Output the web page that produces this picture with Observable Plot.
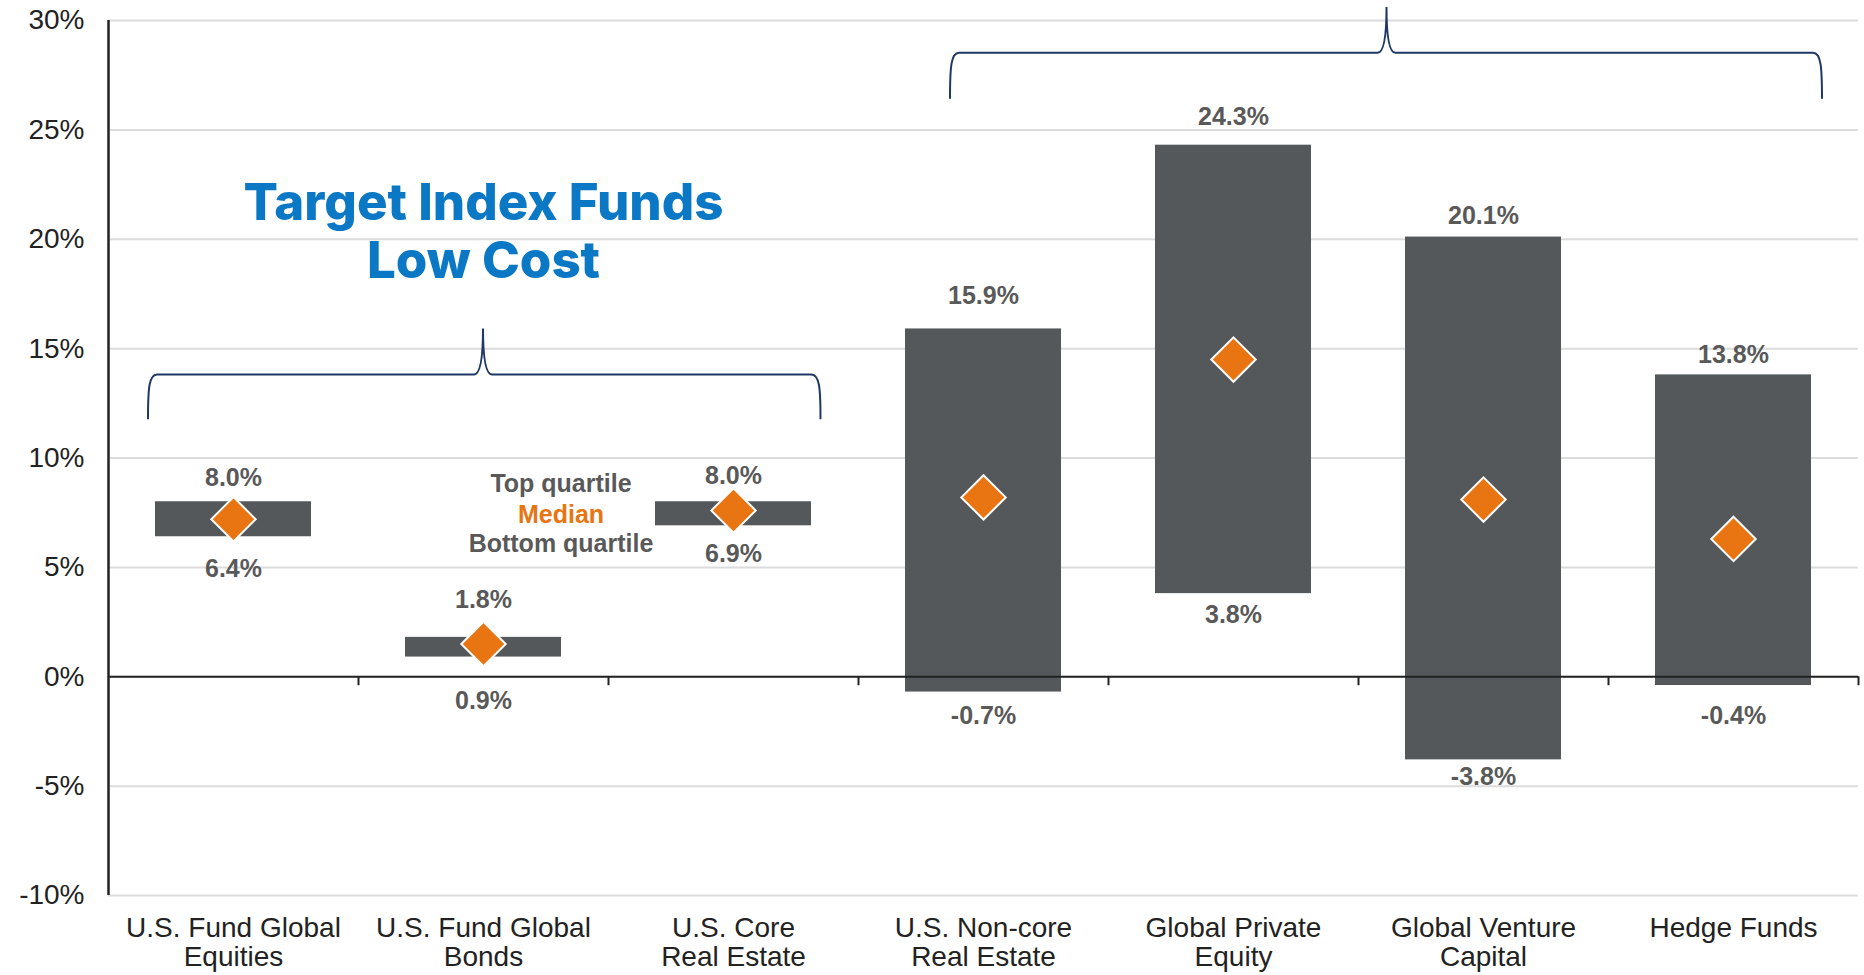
<!DOCTYPE html>
<html>
<head>
<meta charset="utf-8">
<script src="https://cdn.jsdelivr.net/npm/d3@7"></script>
<script src="https://cdn.jsdelivr.net/npm/@observablehq/plot@0.6"></script>
<style>
  html, body { margin: 0; padding: 0; background: #fff; overflow: hidden; }
</style>
</head>
<body>
<div id="chart"></div>
<script>
// ---- data ----
const categories = [
  "U.S. Fund Global\nEquities",
  "U.S. Fund Global\nBonds",
  "U.S. Core\nReal Estate",
  "U.S. Non-core\nReal Estate",
  "Global Private\nEquity",
  "Global Venture\nCapital",
  "Hedge Funds"
];
const topQuartile    = [8.0, 1.8, 8.0, 15.9, 24.3, 20.1, 13.8];
const medianValues   = [7.2, 1.5, 7.6, 8.2, 14.5, 8.1, 6.3];
const bottomQuartile = [6.4, 0.9, 6.9, -0.7, 3.8, -3.8, -0.4];
const yTicks = [-10, -5, 0, 5, 10, 15, 20, 25, 30];
const legendLabels = ["Top quartile", "Median", "Bottom quartile"];
const titleLines = ["Target Index Funds", "Low Cost"];

// ---- build table ----
const rows = categories.map((c, i) => ({
  i, category: c, top: topQuartile[i], median: medianValues[i], bottom: bottomQuartile[i]
}));
const indices = categories.map((_, i) => i);
const boundaries = categories.map((_, i) => i + 0.5);
const pct = v => v.toFixed(1) + "%";

// ---- styling / layout constants ----
const barColor = "#54585a";
const orange = "#e87511";
const labelGray = "#595959";
const braceColor = "#203864";
const halfBar = 0.312;
// pixel gaps of the value labels from the bar ends (as placed in the reference)
const topLabelGap    = [24, 37, 26, 33, 28, 21, 20];
const bottomLabelGap = [32, 44, 28, 24, 21, 17, 30];

function brace(spec) {
  return (index, scales) => {
    const {x, y} = scales;
    const xl = x(spec.x1), xr = x(spec.x2), xm = x(spec.xm);
    const yt = y(spec.tip), yb = y(spec.bar), ye = y(spec.end);
    const r = 9;
    const d = `M${xl},${ye} C${xl},${yb + 14} ${xl + 1},${yb} ${xl + r},${yb} ` +
              `L${xm - r},${yb} Q${xm},${yb} ${xm},${yt} Q${xm},${yb} ${xm + r},${yb} ` +
              `L${xr - r},${yb} C${xr - 1},${yb} ${xr},${yb + 14} ${xr},${ye}`;
    const g = document.createElementNS("http://www.w3.org/2000/svg", "g");
    const p = document.createElementNS("http://www.w3.org/2000/svg", "path");
    p.setAttribute("d", d);
    p.setAttribute("fill", "none");
    p.setAttribute("stroke", braceColor);
    p.setAttribute("stroke-width", "2");
    g.appendChild(p);
    return g;
  };
}

const legendColors = [labelGray, orange, labelGray];
const legendOffsets = [-31, 0, 29];

const valueLabelStyle = {fontSize: 25, fontWeight: "bold", fill: labelGray};

const chart = Plot.plot({
  width: 1864,
  height: 975,
  marginLeft: 108,
  marginRight: 6,
  marginTop: 20,
  marginBottom: 80,
  style: {fontFamily: "'Liberation Sans', Arial, sans-serif", fontSize: "26px", color: "#222", background: "white"},
  x: {type: "linear", domain: [-0.5, 6.5], axis: null},
  y: {domain: [-10, 30], axis: null},
  marks: [
    Plot.gridY(yTicks, {stroke: "#dcdcdc", strokeOpacity: 1, strokeWidth: 2}),
    Plot.axisY(yTicks, {tickSize: 0, tickPadding: 24, tickFormat: d => d + "%", fontSize: 28, fill: "#222", label: null}),
    Plot.axisX(indices, {anchor: "bottom", tickSize: 0, tickPadding: 20, tickFormat: i => categories[i], fontSize: 28, lineHeight: 1.06, fill: "#222", label: null}),
    Plot.rectY(rows, {x1: d => d.i - halfBar, x2: d => d.i + halfBar, y1: "bottom", y2: "top", fill: barColor}),
    Plot.ruleY([0], {stroke: "#222", strokeWidth: 2}),
    Plot.ruleX(boundaries, {y1: 0, y2: 0, insetBottom: -9, stroke: "#222", strokeWidth: 2}),
    Plot.ruleX([-0.5], {y1: -10, y2: 30, stroke: "#222", strokeWidth: 2.5}),
    Plot.dot(rows, {x: "i", y: "median", symbol: "diamond2", r: 20, fill: orange, stroke: "white", strokeWidth: 2}),
    ...indices.map(k => Plot.text(rows, {filter: d => d.i === k, x: "i", y: "top", text: d => pct(d.top), dy: -topLabelGap[k], ...valueLabelStyle})),
    ...indices.map(k => Plot.text(rows, {filter: d => d.i === k, x: "i", y: "bottom", text: d => pct(d.bottom), dy: bottomLabelGap[k], ...valueLabelStyle})),
    ...legendLabels.map((t, k) => Plot.text([t], {x: () => 1.31, y: () => 7.4, text: d => d, dy: legendOffsets[k], fontSize: 25, fontWeight: "bold", fill: legendColors[k]})),
    Plot.text([titleLines.join("\n")], {x: () => 1.0, y: () => 20.4, text: d => d, fontSize: 51, fontWeight: 800, fontFamily: "Inter, 'Open Sans', sans-serif", fill: "#0a78c4", lineHeight: 1.13}),
    brace({x1: -0.34, x2: 2.35, xm: 1.0, tip: 15.9, bar: 13.8, end: 11.75}),
    brace({x1: 2.868, x2: 6.356, xm: 4.614, tip: 30.6, bar: 28.5, end: 26.4})
  ]
});
document.getElementById("chart").appendChild(chart);
</script>
</body>
</html>
